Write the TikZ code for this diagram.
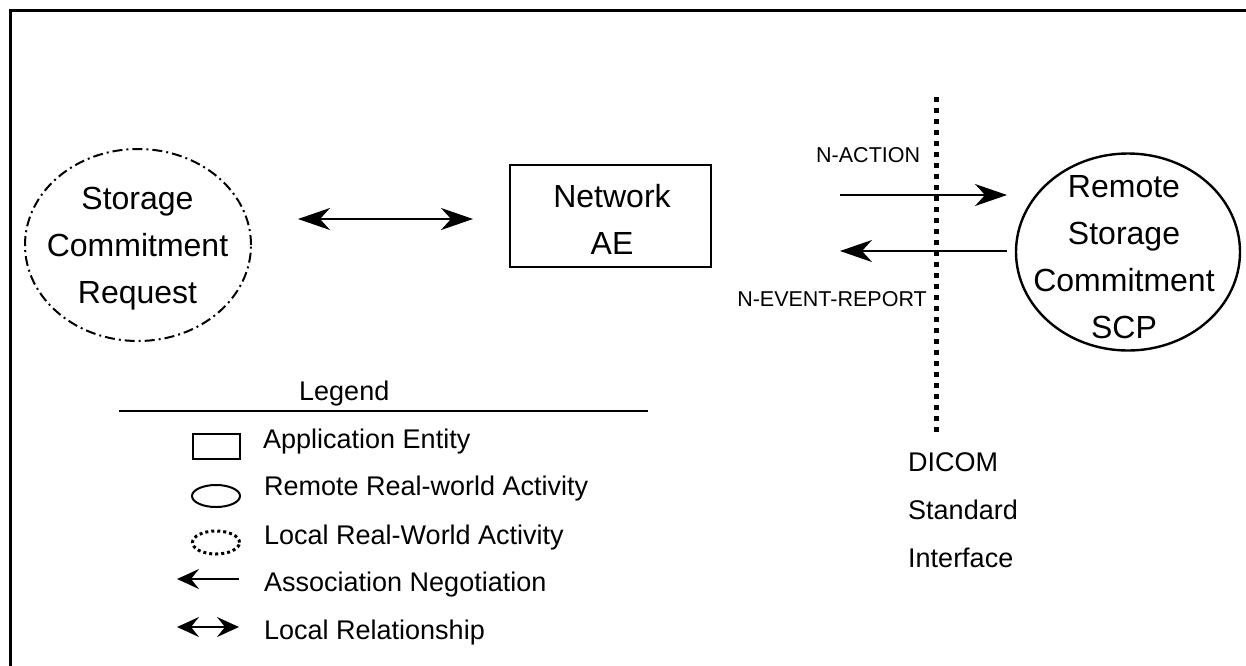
\documentclass[tikz,border=0pt]{standalone}
\usepackage{fontspec}
\setmainfont{Liberation Sans}
\usetikzlibrary{arrows.meta,shapes.geometric}
\tikzset{
  bigtip/.style={-{Stealth[length=32pt,width=22pt,inset=10pt]}},
  bigtips/.style={{Stealth[length=32pt,width=22pt,inset=10pt]}-{Stealth[length=32pt,width=22pt,inset=10pt]}},
  smalltip/.style={-{Stealth[length=22pt,width=20pt,inset=8pt]}},
  smalltips/.style={{Stealth[length=22pt,width=20pt,inset=8pt]}-{Stealth[length=22pt,width=20pt,inset=8pt]}},
  conn/.style={line width=2pt},
  bigtext/.style={font=\fontsize{32}{47}\selectfont, align=center, inner sep=0pt},
  smalltext/.style={font=\fontsize{21.5}{24}\selectfont, inner sep=0pt},
  legtext/.style={font=\fontsize{27}{48}\selectfont, inner sep=0pt},
}
\begin{document}
\begin{tikzpicture}[x=1pt,y=-1pt]
\useasboundingbox (0,0) rectangle (1246,665);
% frame
\draw[line width=3pt, line join=miter] (10.7,666) -- (10.7,10.8) -- (1247,10.8);
% local activity
\node[ellipse, draw, line width=2pt, dash pattern=on 10pt off 4pt on 2pt off 4pt,
      minimum width=226pt, minimum height=192pt, inner sep=0pt] (req) at (138,245) {};
\node[bigtext] (reqtext) at (137.5,249) {Storage\\Commitment\\Request};
% double arrow
\coordinate (la1) at (298,219);
\coordinate (la2) at (473,219);
\draw[conn, bigtips] (la1) -- (la2);
% Network AE
\node[draw, line width=2pt, minimum width=201pt, minimum height=102pt, inner sep=0pt] (ae) at (610.5,216) {};
\node[bigtext] (aetext) at (612,219) {Network\\AE};
% remote SCP
\node[ellipse, draw, line width=2.4pt, minimum width=224pt, minimum height=197pt, inner sep=0pt] (scp) at (1128,252) {};
\node[bigtext] (scptext) at (1124,257) {Remote\\Storage\\Commitment\\SCP};
% messages
\coordinate (na1) at (840,195);
\coordinate (na2) at (1007,195);
\draw[conn, bigtip] (na1) -- (na2);
\coordinate (ne1) at (1007,251);
\coordinate (ne2) at (840,251);
\draw[conn, bigtip] (ne1) -- (ne2);
\node[smalltext, anchor=base west] (nact) at (816,162) {N-ACTION};
\node[smalltext, anchor=base east] (nevt) at (927,306) {N-EVENT-REPORT};
% DICOM interface
\coordinate (dt) at (936,97);
\coordinate (db) at (936,434);
\draw[line width=5pt, dash pattern=on 5pt off 6pt] (dt) -- (db);
\node[legtext, align=left, anchor=west] (dicom) at (908,510.5) {DICOM\\Standard\\Interface};
% legend
\node[legtext, anchor=base west] (legend) at (299,400) {Legend};
\coordinate (ll1) at (119,411);
\coordinate (ll2) at (648,411);
\draw[line width=2pt] (ll1) -- (ll2);
\node[draw, line width=2pt, minimum width=47pt, minimum height=25pt, inner sep=0pt] (lgbox) at (216,446) {};
\node[legtext, anchor=base west] (lg1) at (263,448) {Application Entity};
\node[ellipse, draw, line width=2pt, minimum width=48pt, minimum height=22pt, inner sep=0pt] (lgell) at (216,496) {};
\node[legtext, anchor=base west] (lg2) at (264,495) {Remote Real-world Activity};
\node[ellipse, draw, line width=3pt, dash pattern=on 3pt off 3pt, minimum width=47pt, minimum height=23pt, inner sep=0pt] (lgdot) at (216,542.5) {};
\node[legtext, anchor=base west] (lg3) at (264,544) {Local Real-World Activity};
\coordinate (as1) at (239,579);
\coordinate (as2) at (177,579);
\draw[conn, smalltip] (as1) -- (as2);
\node[legtext, anchor=base west] (lg4) at (264,591) {Association Negotiation};
\coordinate (lr1) at (177,627);
\coordinate (lr2) at (239,627);
\draw[conn, smalltips] (lr1) -- (lr2);
\node[legtext, anchor=base west] (lg5) at (264,639) {Local Relationship};
\end{tikzpicture}
\end{document}
